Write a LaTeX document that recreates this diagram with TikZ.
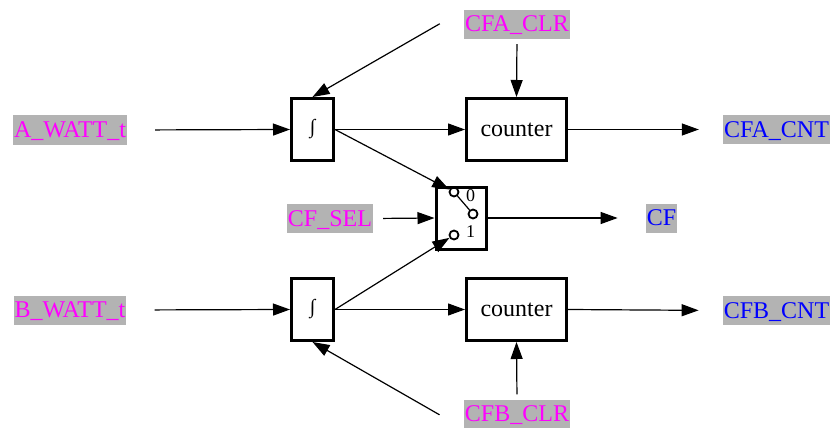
\documentclass[tikz,border=0pt]{standalone}
\usepackage{fontspec}
\setmainfont{Liberation Serif}
\usetikzlibrary{arrows.meta}
\definecolor{lblgray}{RGB}{179,179,179}
\definecolor{inmag}{RGB}{255,0,255}
\definecolor{outblue}{RGB}{0,0,255}
\begin{document}
\begin{tikzpicture}[x=1pt,y=-1pt,
  lbl/.style={fill=lblgray, inner xsep=1pt, inner ysep=2pt, text height=20pt, text depth=5pt, font=\fontsize{24}{28}\selectfont},
  inp/.style={lbl, text=inmag},
  outp/.style={lbl, text=outblue},
  blk/.style={draw, line width=3pt, minimum width=100pt, minimum height=62pt, font=\fontsize{24}{28}\selectfont, inner sep=0pt},
  integ/.style={draw, line width=3pt, minimum width=42pt, minimum height=62pt, inner sep=0pt, font=\fontsize{20}{24}\selectfont},
  muxbox/.style={draw, line width=3pt, minimum width=50pt, minimum height=62pt, inner sep=0pt},
  pin/.style={draw, circle, line width=1.8pt, minimum size=9pt, inner sep=0pt},
  pinlbl/.style={inner sep=0pt, font=\fontsize{18}{21}\selectfont},
  arr/.style={line width=1.2pt, -{Triangle[length=17pt,width=12pt]}},
  wire/.style={line width=1.2pt},
]
\useasboundingbox (0,0) rectangle (831,428);
% inputs and outputs
\node[inp] (aw) at (70,130) {A\_WATT\_t};
\node[inp] (bw) at (70,310) {B\_WATT\_t};
\node[inp] (caclr) at (517,24.5) {CFA\_CLR};
\node[inp] (cbclr) at (517,414) {CFB\_CLR};
\node[inp] (sel) at (330,218.5) {CF\_SEL};
\node[outp] (cacnt) at (776.5,129.5) {CFA\_CNT};
\node[outp] (cbcnt) at (776.5,310.5) {CFB\_CNT};
\node[outp] (cf) at (661.5,218) {CF};
% blocks
\node[integ] (ia) at (312.5,129.5) {∫};
\node[integ] (ib) at (312.5,309.5) {∫};
\node[blk] (ca) at (516.5,129.5) {counter};
\node[blk] (cb) at (516.5,309.5) {counter};
\node[muxbox] (mux) at (461,218) {};
\node[pin] (p0) at (454,192) {};
\node[pin] (pout) at (473,214) {};
\node[pin] (p1) at (454,235) {};
\node[pinlbl] (l0) at (470.5,196) {0};
\node[pinlbl] (l1) at (470.5,232) {1};
\draw[wire] (p0) -- (pout);
% connectors
\draw[arr, shorten <=28pt] (aw.east) -- (ia.west);
\draw[arr, shorten <=28pt] (bw.east) -- (ib.west);
\draw[arr] (ia.east) -- (ca.west);
\draw[arr] (ib.east) -- (cb.west);
\draw[arr, shorten >=24pt] (ca.east) -- (cacnt.west);
\draw[arr, shorten >=24pt] (cb.east) -- (cbcnt.west);
\draw[arr, shorten <=5pt] (caclr.south) -- (ca.north);
\draw[arr, shorten <=5pt] (cbclr.north) -- (cb.south);
\draw[arr, shorten <=28pt] (caclr.north west) -- (ia.north);
\draw[arr, shorten <=28pt] (cbclr.south west) -- (ib.south);
\draw[arr] (ia.east) -- (p0);
\draw[arr] (ib.east) -- (p1);
\draw[arr, shorten <=10pt] (sel.east) -- (mux.west);
\draw[arr, shorten >=28pt] (mux.east) -- (cf.west);
\end{tikzpicture}
\end{document}
